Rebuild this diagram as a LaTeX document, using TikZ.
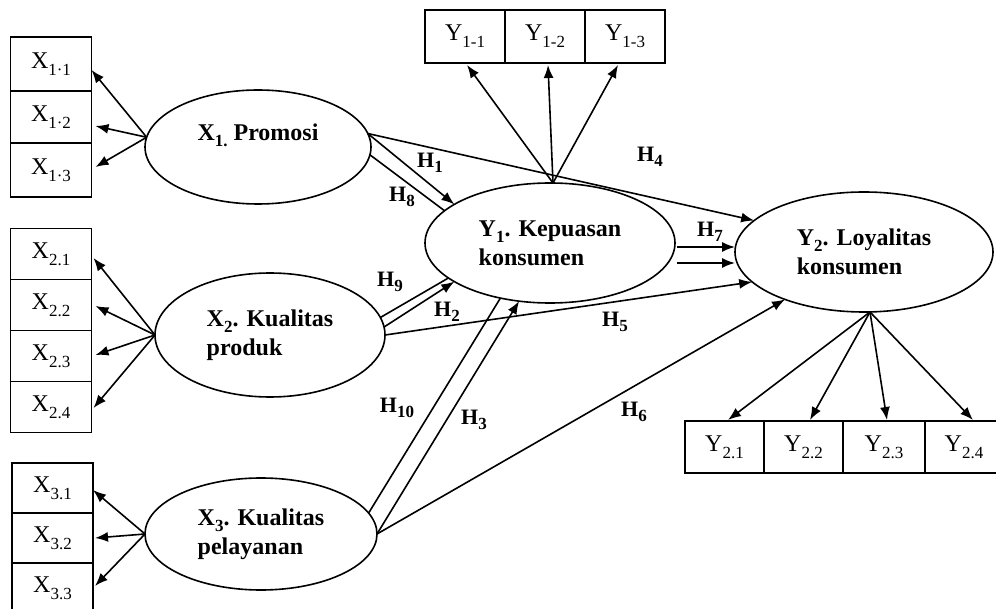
\documentclass[tikz,border=0pt]{standalone}
\usepackage{fontspec}
\setmainfont{Liberation Serif}
\usetikzlibrary{arrows.meta,shapes.geometric,calc}
\newcommand\sbx[1]{\raisebox{-0.28em}{\fontsize{17}{17}\selectfont #1}}
\newcommand\sbl[1]{\raisebox{-0.25em}{\fontsize{17}{17}\selectfont #1}}
\begin{document}
\begin{tikzpicture}[x=1pt,y=-1pt,
  ind/.style={draw,line width=1.6pt,minimum width=80pt,minimum height=52pt,inner sep=0pt,outer sep=0pt,font=\fontsize{24}{27}\selectfont},
  lat/.style={draw,ellipse,line width=1.6pt,inner sep=0pt,outer sep=0pt,font=\fontsize{24}{29}\selectfont\bfseries,align=left},
  arr/.style={line width=1.6pt,-{Latex[length=13pt,width=10pt]}},
  pth/.style={line width=1.6pt},
  hl/.style={font=\fontsize{22}{24}\selectfont\bfseries,inner sep=0pt}
]
\useasboundingbox (0,0) rectangle (996,609);
% indicator boxes X1
\node[ind,minimum width=81pt,minimum height=54pt] (x11) at (51,64) {X\sbx{1·1}};
\node[ind,minimum width=81pt,minimum height=52pt] (x12) at (51,117) {X\sbx{1·2}};
\node[ind,minimum width=81pt,minimum height=54pt] (x13) at (51,170) {X\sbx{1·3}};
% X2
\node[ind,minimum width=81pt,minimum height=51pt] (x21) at (51,254) {X\sbx{2.1}};
\node[ind,minimum width=81pt,minimum height=51pt] (x22) at (51,305) {X\sbx{2.2}};
\node[ind,minimum width=81pt,minimum height=51pt] (x23) at (51,356) {X\sbx{2.3}};
\node[ind,minimum width=81pt,minimum height=51pt] (x24) at (51,407) {X\sbx{2.4}};
% X3
\node[ind,minimum width=81pt,minimum height=50pt] (x31) at (52.5,488) {X\sbx{3.1}};
\node[ind,minimum width=81pt,minimum height=50pt] (x32) at (52.5,538) {X\sbx{3.2}};
\node[ind,minimum width=81pt,minimum height=50pt] (x33) at (52.5,588) {X\sbx{3.3}};
% Y1 boxes
\node[ind,minimum width=80pt,minimum height=53pt] (y11) at (465,36.5) {Y\sbx{1-1}};
\node[ind,minimum width=80pt,minimum height=53pt] (y12) at (545,36.5) {Y\sbx{1-2}};
\node[ind,minimum width=80pt,minimum height=53pt] (y13) at (625,36.5) {Y\sbx{1-3}};
% Y2 boxes
\node[ind,minimum width=79pt,minimum height=52pt] (y21) at (724.5,447) {Y\sbx{2.1}};
\node[ind,minimum width=79pt,minimum height=52pt] (y22) at (803.5,447) {Y\sbx{2.2}};
\node[ind,minimum width=82pt,minimum height=52pt] (y23) at (884,447) {Y\sbx{2.3}};
\node[ind,minimum width=78pt,minimum height=52pt] (y24) at (964,447) {Y\sbx{2.4}};
% latent variables
\node[lat,minimum width=226pt,minimum height=114pt] (X1) at (258,147) {X\sbl{1.} Promosi\\\mbox{}};
\node[lat,minimum width=230pt,minimum height=124pt] (X2) at (270,335) {X\sbl{2}. Kualitas\\produk};
\node[lat,minimum width=232pt,minimum height=112pt] (X3) at (261,534) {X\sbl{3}. Kualitas\\pelayanan};
\node[lat,minimum width=250pt,minimum height=120pt] (Y1) at (550,243) {Y\sbl{1}. Kepuasan\\konsumen};
\node[lat,minimum width=258pt,minimum height=120pt] (Y2) at (864,252) {Y\sbl{2}. Loyalitas\\konsumen};
% measurement arrows X1
\draw[arr] (X1.175) -- ($(x11.east)+(0,6)$);
\draw[arr] (X1.175) -- ($(x12.east)+(4,9)$);
\draw[arr] (X1.175) -- ($(x13.east)+(4,-3)$);
% X2
\draw[arr] (X2.west) -- ($(x21.east)+(2,4)$);
\draw[arr] (X2.west) -- ($(x22.east)+(4,1)$);
\draw[arr] (X2.west) -- ($(x23.east)+(4,-1)$);
\draw[arr] (X2.west) -- ($(x24.east)+(2,1)$);
% X3
\draw[arr] (X3.west) -- ($(x31.east)+(0,2)$);
\draw[arr] (X3.west) -- ($(x32.east)+(2,0)$);
\draw[arr] (X3.west) -- ($(x33.east)+(2,-2)$);
% Y1
\draw[arr] ($(Y1.north)+(3,0)$) -- ($(y11.south)+(2,2)$);
\draw[arr] ($(Y1.north)+(3,0)$) -- ($(y12.south)+(3,2)$);
\draw[arr] ($(Y1.north)+(3,0)$) -- ($(y13.south)+(-7,2)$);
% Y2
\draw[arr] ($(Y2.south)+(6,0)$) -- ($(y21.north)+(3.5,-1)$);
\draw[arr] ($(Y2.south)+(6,0)$) -- ($(y22.north)+(6.5,-1)$);
\draw[arr] ($(Y2.south)+(6,0)$) -- ($(y23.north)+(3,-1)$);
\draw[arr] ($(Y2.south)+(6,0)$) -- ($(y24.north)+(9,-1)$);
% structural paths
\draw[arr] (X1.7) -- (Y1.158);
\draw[pth] (X1.-4) -- (Y1.163);
\draw[arr] (X1.7) -- (Y2.164);
\draw[pth] (X2.9) -- (Y1.199);
\draw[arr] (X2.4) -- (Y1.202);
\draw[arr] (X2.east) -- (Y2.195);
\draw[pth] (X3.11) -- (Y1.228);
\draw[arr] (X3.east) -- (Y1.242);
\draw[arr] (X3.east) -- (Y2.211);
\draw[arr] ($(Y1.east)+(2,4)$) -- ($(Y2.west)+(0,-5)$);
\draw[arr] ($(Y1.east)+(2,20)$) -- ($(Y2.west)+(0,11)$);
% labels
\node[hl] (h1) at (430,163) {H\sbl{1}};
\node[hl] (h8) at (402,197) {H\sbl{8}};
\node[hl] (h4) at (650,157) {H\sbl{4}};
\node[hl] (h9) at (390,282) {H\sbl{9}};
\node[hl] (h2) at (447,312) {H\sbl{2}};
\node[hl] (h5) at (615,322) {H\sbl{5}};
\node[hl] (h10) at (397,408) {H\sbl{10}};
\node[hl] (h3) at (474,420) {H\sbl{3}};
\node[hl] (h6) at (634,412) {H\sbl{6}};
\node[hl] (h7) at (710,232) {H\sbl{7}};
\end{tikzpicture}
\end{document}
